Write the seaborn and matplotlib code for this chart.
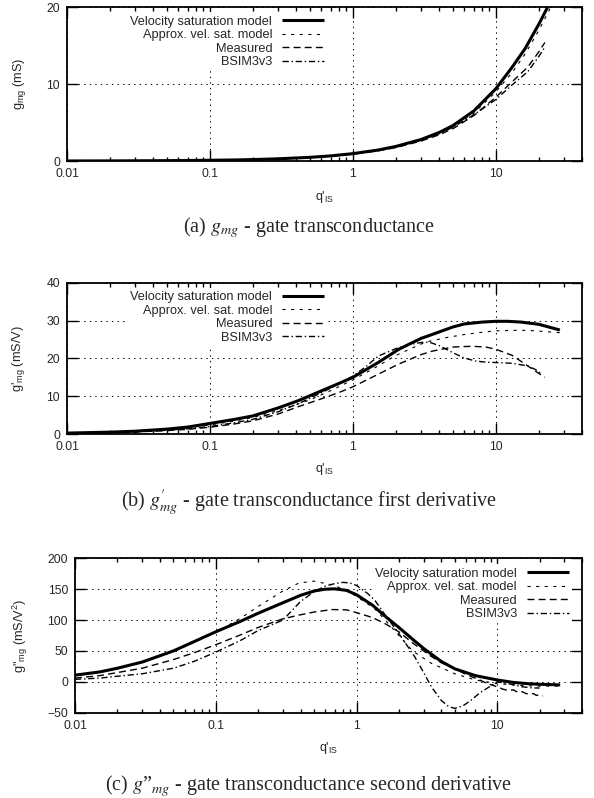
import numpy as np
import pandas as pd
import matplotlib
matplotlib.use('Agg')
import matplotlib.pyplot as plt
import matplotlib.ticker as mticker
import seaborn as sns

# ---- dati ----
# (a) g_mg [mS]
q_a_vel = [0.01, 0.02, 0.03, 0.05, 0.07, 0.1, 0.15, 0.2, 0.3, 0.5, 0.7, 1, 1.5, 2, 3, 4, 5, 7, 10, 13, 16, 20, 25]
g_a_vel = [0.01, 0.02, 0.03, 0.05, 0.07, 0.1, 0.14, 0.19, 0.29, 0.48, 0.67, 0.96, 1.43, 1.9, 2.8, 3.7, 4.6, 6.5,
           9.4, 12.2, 14.6, 17.8, 21.3]
q_a_app = [0.01, 0.02, 0.03, 0.05, 0.07, 0.1, 0.15, 0.2, 0.3, 0.5, 0.7, 1, 1.5, 2, 3, 4, 5, 7, 10, 13, 16, 20, 25, 28]
g_a_app = [0.01, 0.02, 0.03, 0.05, 0.07, 0.1, 0.14, 0.19, 0.28, 0.47, 0.66, 0.94, 1.4, 1.85, 2.7, 3.55, 4.4, 6.2,
           9.0, 11.5, 13.9, 17.0, 20.5, 22.5]
q_a_mea = [0.01, 0.02, 0.03, 0.05, 0.07, 0.1, 0.15, 0.2, 0.3, 0.5, 0.7, 1, 1.5, 2, 3, 4, 5, 7, 10, 13, 16.7, 20, 22]
g_a_mea = [0.01, 0.02, 0.03, 0.05, 0.07, 0.1, 0.14, 0.19, 0.28, 0.46, 0.64, 0.9, 1.33, 1.75, 2.6, 3.4, 4.2, 5.9,
           8.3, 10.3, 12.2, 14.2, 15.4]
q_a_bsim = [0.01, 0.02, 0.03, 0.05, 0.07, 0.1, 0.15, 0.2, 0.3, 0.5, 0.7, 1, 1.5, 2, 3, 4, 5, 7, 10, 13, 16.7, 20, 22]
g_a_bsim = [0.01, 0.02, 0.03, 0.05, 0.07, 0.1, 0.14, 0.19, 0.29, 0.47, 0.67, 0.95, 1.42, 1.85, 2.7, 3.55, 4.4, 6.0,
            8.0, 9.9, 11.6, 13.6, 14.8]

# (b) g'_mg [mS/V]
q_b_vel = [0.01, 0.02, 0.03, 0.05, 0.07, 0.1, 0.15, 0.2, 0.3, 0.42, 0.6, 0.8, 1, 1.5, 2.09, 3, 3.57, 5, 6, 8, 10,
           12, 15, 20, 25, 28]
g_b_vel = [0.25, 0.5, 0.75, 1.3, 1.85, 2.8, 3.9, 4.8, 6.9, 8.9, 11.4, 13.4, 15.0, 18.9, 22.4, 25.3, 26.3, 28.3,
           29.1, 29.6, 29.8, 29.8, 29.6, 29.0, 28.0, 27.5]
q_b_app = [0.01, 0.02, 0.03, 0.05, 0.07, 0.1, 0.15, 0.2, 0.3, 0.5, 0.7, 1, 1.5, 2, 3, 3.4, 4.5, 6, 8, 10, 13, 16.7,
           22, 28]
g_b_app = [0.22, 0.45, 0.68, 1.15, 1.65, 2.4, 3.45, 4.4, 6.2, 9.0, 11.5, 14.3, 18.0, 20.8, 23.8, 24.5, 25.5, 26.3,
           26.9, 27.3, 27.4, 27.4, 27.1, 26.8]
q_b_mea = [0.01, 0.02, 0.03, 0.05, 0.07, 0.1, 0.15, 0.2, 0.3, 0.42, 0.6, 0.8, 1, 1.5, 2.09, 3, 3.57, 5, 6.8, 8.5,
           10, 13, 16.7, 20, 22]
g_b_mea = [0.15, 0.35, 0.55, 0.9, 1.25, 1.8, 2.7, 3.5, 5.3, 7.3, 9.3, 11.0, 12.5, 15.8, 18.5, 21.0, 21.9, 23.0,
           23.2, 23.0, 22.4, 20.8, 18.0, 16.0, 15.0]
q_b_bsim = [0.01, 0.02, 0.03, 0.05, 0.07, 0.1, 0.15, 0.2, 0.3, 0.42, 0.6, 0.8, 1, 1.25, 1.5, 2, 2.5, 3, 3.4, 4, 5,
            6, 7.2, 8.5, 10, 13, 16.7, 19, 21]
g_b_bsim = [0.2, 0.4, 0.6, 1.0, 1.4, 2.0, 3.0, 3.9, 5.9, 8.1, 10.9, 13.3, 15.3, 18.0, 20.6, 22.6, 23.7, 24.2, 24.3,
            23.4, 21.5, 20.1, 19.3, 19.0, 18.9, 18.7, 18.0, 17.0, 15.8]

# (c) g''_mg [mS/V^2]
q_c_vel = [0.01, 0.015, 0.02, 0.03, 0.05, 0.07, 0.1, 0.15, 0.2, 0.3, 0.4, 0.5, 0.6, 0.7, 0.85, 1, 1.3, 1.6, 2,
           2.5, 3, 4, 5, 7, 10, 13, 16.5, 20, 28]
g_c_vel = [10.8, 16, 22, 32, 50, 65, 81, 98, 111, 128, 140, 147, 150, 150.5, 148, 141, 124, 106, 88, 69, 54, 33,
           21, 10, 3, -1, -3, -4, -5]
q_c_app = [0.01, 0.015, 0.02, 0.03, 0.05, 0.07, 0.1, 0.15, 0.2, 0.3, 0.39, 0.5, 0.67, 0.85, 1, 1.15, 1.35, 1.6, 2,
           2.5, 3.4, 5, 7, 10, 15, 20, 28]
g_c_app = [10, 15.5, 21, 31, 49, 64, 80, 103, 122, 147, 160, 163, 157, 148, 138, 129, 118, 100, 75, 50, 30, 13, 3,
           -3, -6, -7, -7]
q_c_mea = [0.01, 0.015, 0.02, 0.03, 0.05, 0.07, 0.1, 0.15, 0.2, 0.3, 0.39, 0.5, 0.67, 0.85, 1, 1.3, 1.6, 2, 2.5,
           3.4, 4, 5, 6, 7.5, 8.5, 10, 11, 12, 13, 14, 15, 16, 17, 18, 19, 20, 21]
g_c_mea = [6, 10, 15, 22, 36, 47, 60, 76, 88, 102, 108, 113, 117, 116.5, 112, 104, 94, 81, 63, 41, 31, 21, 12, 3,
           -3, -8, -12, -14, -13, -17, -16, -19, -20, -19, -22, -21, -23]
q_c_bsim = [0.01, 0.015, 0.02, 0.03, 0.05, 0.07, 0.1, 0.15, 0.2, 0.3, 0.4, 0.5, 0.6, 0.7, 0.8, 0.9, 1, 1.2, 1.35,
            1.6, 2, 2.3, 2.6, 3, 3.4, 4, 4.5, 5, 5.7, 6.5, 7.5, 8.8, 10, 12, 15, 18, 20]
g_c_bsim = [4, 6, 9, 13, 22, 33, 48, 67, 83, 100, 130, 146, 155, 159, 161, 160, 156, 143, 132, 108, 78, 58, 40, 15,
            -8, -30, -40, -43, -39, -30, -18, -8, 0, -3, -8, -10, -10]

nomi = ['Velocity saturation model', 'Approx. vel. sat. model', 'Measured', 'BSIM3v3']

#stili delle linee (in punti, senza scalare i tratteggi)
stili = {
    'Velocity saturation model': dict(lw=2.2, ls='-'),
    'Approx. vel. sat. model': dict(lw=0.8, ls=(0, (2.2, 4))),
    'Measured': dict(lw=1.0, ls=(0, (5, 3))),
    'BSIM3v3': dict(lw=1.0, ls=(0, (4.5, 2, 1, 2))),
}

sns.set_theme(style='ticks')
plt.rcParams['font.family'] = ['Liberation Sans', 'DejaVu Sans']
plt.rcParams['mathtext.fontset'] = 'stix'
plt.rcParams['mathtext.default'] = 'regular'
plt.rcParams['lines.scale_dashes'] = False


def disegna(ax, serie, ylim, yticks, ylabel, leg_loc, leg_anchor, ylab_x):
    for nome, (q, g) in zip(nomi, serie):
        df = pd.DataFrame({'q': q, 'g': g})
        sns.lineplot(data=df, x='q', y='g', ax=ax, color='black', label=nome,
                     linestyle=stili[nome]['ls'], linewidth=stili[nome]['lw'],
                     solid_capstyle='butt', dash_capstyle='butt', zorder=3)
    ax.set_xscale('log')
    ax.set_xlim(0.01, 40)
    ax.set_ylim(*ylim)
    ax.set_yticks(yticks)
    ax.xaxis.set_major_locator(mticker.FixedLocator([0.01, 0.1, 1, 10]))
    ax.xaxis.set_major_formatter(mticker.FixedFormatter(['0.01', '0.1', '1', '10']))
    ax.xaxis.set_minor_locator(mticker.LogLocator(base=10, subs=np.arange(2, 10)))
    ax.xaxis.set_minor_formatter(mticker.NullFormatter())
    ax.tick_params(which='both', direction='in', top=True, right=True,
                   width=1.0, color='black', labelsize=8.8, pad=5)
    ax.tick_params(which='major', length=8)
    ax.tick_params(which='minor', length=3.2)
    ax.grid(True, which='major', color='black', lw=0.7, ls=(0, (1, 3)))
    ax.set_axisbelow(True)
    for s in ax.spines.values():
        s.set_linewidth(1.3)
        s.set_color('black')
        s.set_zorder(4)
    ax.set_xlabel(r"q'$_{IS}$", fontsize=9)
    ax.set_ylabel(ylabel, fontsize=9.2)
    ax.xaxis.set_label_coords(0.5, -0.18)
    ax.yaxis.set_label_coords(ylab_x, 0.5)
    leg = ax.legend(loc=leg_loc, bbox_to_anchor=leg_anchor, markerfirst=False,
                    fontsize=9.2, handlelength=3.3, handletextpad=0.75,
                    labelspacing=0.12, borderpad=0.25, borderaxespad=0,
                    frameon=True, fancybox=False, framealpha=1,
                    facecolor='white', edgecolor='none')
    #legenda sopra la griglia ma sotto le curve
    leg.set_zorder(1)
    #allineo a destra i testi della legenda
    for col in leg._legend_handle_box.get_children():
        col.align = 'right'


fig = plt.figure(figsize=(5.94, 7.98), dpi=100)
ax_a = fig.add_axes([0.1128, 0.7982, 0.867, 0.193])
ax_b = fig.add_axes([0.1128, 0.4561, 0.867, 0.1896])
ax_c = fig.add_axes([0.1263, 0.1069, 0.8535, 0.1935])

disegna(ax_a, [(q_a_vel, g_a_vel), (q_a_app, g_a_app), (q_a_mea, g_a_mea), (q_a_bsim, g_a_bsim)],
        (0, 20), [0, 10, 20], r'g$_{mg}$ (mS)', 'upper right', (0.505, 0.965), -0.075)
disegna(ax_b, [(q_b_vel, g_b_vel), (q_b_app, g_b_app), (q_b_mea, g_b_mea), (q_b_bsim, g_b_bsim)],
        (0, 40), [0, 10, 20, 30, 40], r"g'$_{mg}$ (mS/V)", 'upper right', (0.505, 0.965), -0.078)
disegna(ax_c, [(q_c_vel, g_c_vel), (q_c_app, g_c_app), (q_c_mea, g_c_mea), (q_c_bsim, g_c_bsim)],
        (-50, 200), [-50, 0, 50, 100, 150, 200], r'g"$_{mg}$ (mS/V$^2$)', 'upper right',
        (0.98, 0.96), -0.088)

#didascalie
cap = dict(ha='center', va='center', fontsize=14.5, family=['Liberation Serif', 'DejaVu Serif'])
fig.text(0.52, 1 - 228 / 798, r'(a) $\mathit{g_{mg}}$ - gate transconductance', **cap)
fig.text(0.52, 1 - 503 / 798, r"(b) $\mathit{g^{\prime}_{mg}}$ - gate transconductance first derivative", **cap)
fig.text(0.52, 1 - 786 / 798, r'(c) $\mathit{g}$”$_{\mathit{mg}}$ - gate transconductance second derivative', **cap)

plt.savefig('out.png', dpi=100)
